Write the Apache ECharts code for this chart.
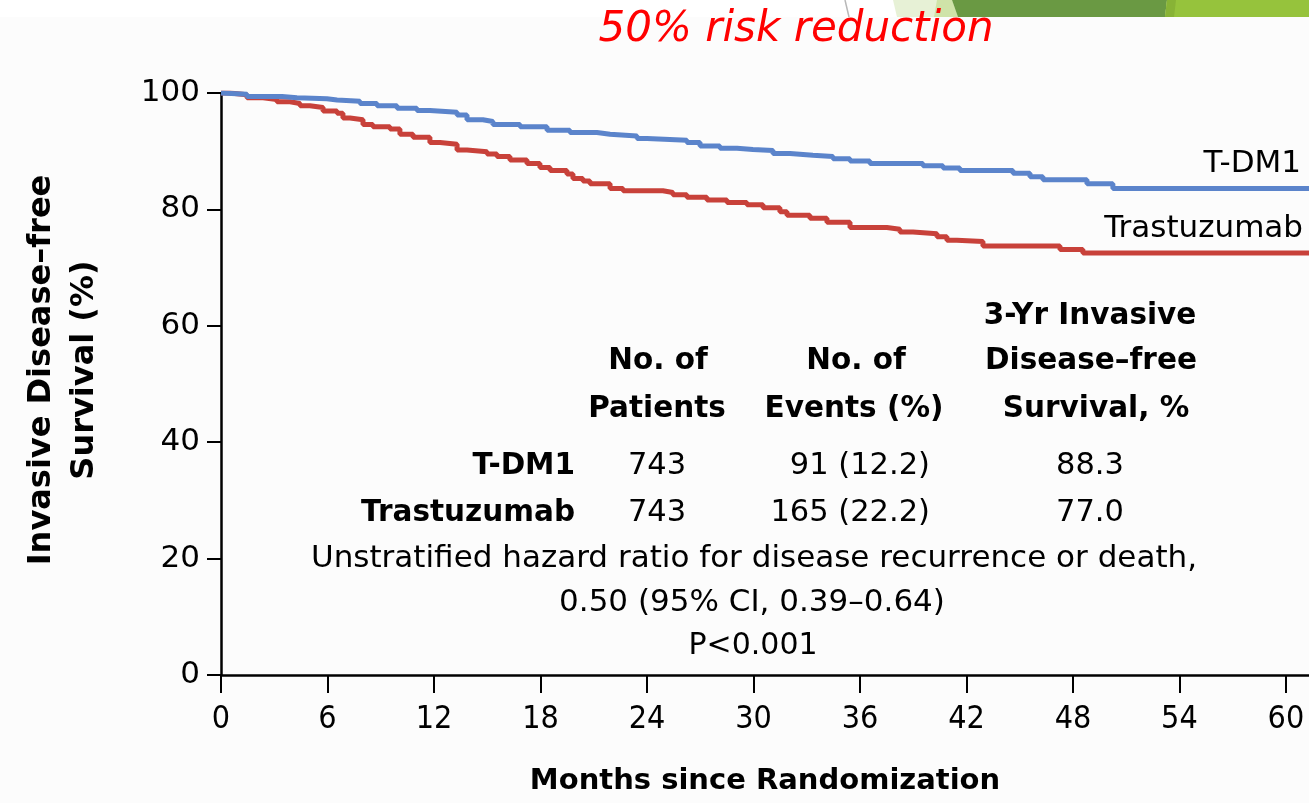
<!DOCTYPE html>
<html>
<head>
<meta charset="utf-8">
<script src="https://cdn.jsdelivr.net/npm/echarts@6/dist/echarts.min.js"></script>
<style>
html,body{margin:0;padding:0;background:#fcfcfc;}
#chart{width:1309px;height:803px;}
</style>
</head>
<body>
<div id="chart"></div>
<script>
// ---- Data ----
var seriesNames = ['T-DM1', 'Trastuzumab'];
// Kaplan-Meier step points: [month, survival %]
var tdm1Months = [0, 0.1, 1.46, 3.44, 4.28, 5.97, 6.54, 7.83, 8.79, 9.92, 11.04, 11.77, 13.30, 13.86, 14.76, 15.32, 16.85, 18.37, 19.66, 21.18, 21.92, 23.44, 24.0, 26.25, 26.99, 28.11, 29.07, 29.97, 31.10, 32.06, 33.35, 34.48, 35.44, 36.56, 39.55, 40.68, 41.63, 44.62, 45.58, 46.31, 48.79, 50.25, 61.3];
var tdm1Values = [100, 99.8, 99.4, 99.2, 99.0, 98.8, 98.6, 98.2, 97.8, 97.4, 97.0, 96.7, 96.2, 95.4, 95.1, 94.6, 94.2, 93.6, 93.2, 92.9, 92.6, 92.2, 91.9, 91.5, 90.9, 90.5, 90.3, 90.1, 89.6, 89.3, 89.1, 88.7, 88.3, 87.9, 87.5, 87.1, 86.7, 86.2, 85.6, 85.1, 84.4, 83.6, 83.6];
var trasMonths = [0, 0.5, 1.46, 2.37, 3.15, 3.89, 4.45, 5.01, 5.75, 6.54, 6.87, 7.27, 8.0, 8.56, 9.52, 10.08, 10.82, 11.77, 12.34, 13.30, 13.86, 14.99, 15.55, 16.28, 17.24, 17.97, 18.54, 19.49, 19.83, 20.39, 20.79, 21.92, 22.65, 24.9, 25.46, 26.25, 27.38, 28.51, 29.63, 30.54, 31.49, 31.89, 33.18, 34.14, 35.44, 37.52, 38.25, 38.99, 40.34, 40.90, 41.46, 42.93, 47.27, 48.56, 61.3];
var trasValues = [100, 99.7, 99.2, 98.9, 98.5, 98.2, 97.8, 97.5, 96.9, 96.5, 95.7, 95.4, 94.6, 94.2, 93.8, 92.9, 92.4, 91.5, 91.2, 90.2, 89.9, 89.5, 89.1, 88.5, 87.9, 87.2, 86.7, 86.1, 85.3, 84.9, 84.4, 83.6, 83.2, 82.9, 82.5, 82.1, 81.6, 81.2, 80.8, 80.3, 79.6, 79.0, 78.5, 77.8, 76.9, 76.6, 76.1, 75.8, 75.3, 74.7, 74.5, 73.7, 73.1, 72.5, 72.5];
var xTicks = [0, 6, 12, 18, 24, 30, 36, 42, 48, 54, 60];
var yTicks = [0, 20, 40, 60, 80, 100];
var patients = ['743', '743'];
var events = ['91 (12.2)', '165 (22.2)'];
var threeYr = ['88.3', '77.0'];
var statLines = ['Unstratified hazard ratio for disease recurrence or death,', '0.50 (95% CI, 0.39\u20130.64)', 'P<0.001'];

function zip(a, b) { return a.map(function (v, i) { return [v, b[i]]; }); }

var FONT = "'DejaVu Sans', Verdana, sans-serif";
var NARROW = "'Liberation Sans Narrow', 'DejaVu Sans Condensed', 'Arial Narrow', 'DejaVu Sans', sans-serif";
var chart = echarts.init(document.getElementById('chart'), null, { renderer: 'canvas' });

var txt = function (x, y, text, opts) {
  opts = opts || {};
  return {
    type: 'text', x: x, y: y, z: 10,
    style: {
      text: text,
      fill: opts.fill || '#000',
      font: (opts.style || 'normal') + ' ' + (opts.weight || 'normal') + ' ' + (opts.size || 30) + 'px ' + (opts.family || FONT),
      align: opts.align || 'center',
      verticalAlign: 'middle'
    }
  };
};

var B = 29.5;  // bold table text size
var R = 30.5;  // regular table text size

var graphics = [
  // top white strip and decorative slide shapes
  { type: 'rect', shape: { x: 0, y: 0, width: 1309, height: 17 }, style: { fill: '#ffffff' }, z: 0 },
  { type: 'polygon', shape: { points: [[893, 0], [1309, 0], [1309, 17], [897, 17]] }, style: { fill: '#e7f1d6' }, z: 1 },
  { type: 'polygon', shape: { points: [[937, 0], [952, 0], [958, 17], [934, 17]] }, style: { fill: '#cfe3a8' }, z: 2 },
  { type: 'polygon', shape: { points: [[952, 0], [1167, 0], [1165, 17], [958, 17]] }, style: { fill: '#6a9943' }, z: 2 },
  { type: 'polygon', shape: { points: [[1167, 0], [1309, 0], [1309, 17], [1165, 17]] }, style: { fill: '#96c33c' }, z: 2 },
  { type: 'polygon', shape: { points: [[1167, 0], [1176, 0], [1174, 17], [1165, 17]] }, style: { fill: '#88b336' }, z: 3 },
  { type: 'line', shape: { x1: 845, y1: 0, x2: 849, y2: 17 }, style: { stroke: '#b8b8b8', lineWidth: 1.5 }, z: 3 },
  // title
  txt(796, 30, '50% risk reduction', { fill: '#ff0000', style: 'italic', size: 42 }),
  // y axis title
  {
    type: 'text', x: 63, y: 370, rotation: Math.PI / 2, z: 10,
    style: {
      text: 'Invasive Disease\u2013free\nSurvival (%)',
      fill: '#000', font: 'bold 32px ' + FONT,
      align: 'center', verticalAlign: 'middle', lineHeight: 43
    }
  },
  // curve labels
  txt(1301, 164, seriesNames[0], { align: 'right', size: 31 }),
  txt(1303, 229, seriesNames[1], { align: 'right', size: 31 }),
  // table headers
  txt(1090, 316, '3-Yr Invasive', { weight: 'bold', size: B }),
  txt(658, 361, 'No. of', { weight: 'bold', size: B }),
  txt(856, 361, 'No. of', { weight: 'bold', size: B }),
  txt(1091, 361, 'Disease\u2013free', { weight: 'bold', size: B }),
  txt(657, 409, 'Patients', { weight: 'bold', size: B }),
  txt(854, 409, 'Events (%)', { weight: 'bold', size: B }),
  txt(1096, 409, 'Survival, %', { weight: 'bold', size: B }),
  // table rows
  txt(575, 466, seriesNames[0], { weight: 'bold', size: B, align: 'right' }),
  txt(575, 513, seriesNames[1], { weight: 'bold', size: B, align: 'right' }),
  txt(657, 466, patients[0], { size: R }),
  txt(657, 513, patients[1], { size: R }),
  txt(930, 466, events[0], { size: R, align: 'right' }),
  txt(930, 513, events[1], { size: R, align: 'right' }),
  txt(1090, 466, threeYr[0], { size: R }),
  txt(1090, 513, threeYr[1], { size: R }),
  txt(754, 559, statLines[0], { size: 31 }),
  txt(752, 603, statLines[1], { size: 31 }),
  txt(753, 646, statLines[2], { size: 30 })
];

chart.setOption({
  backgroundColor: '#fcfcfc',
  animation: false,
  grid: { left: 221, right: 0, top: 93, bottom: 128, containLabel: false },
  xAxis: {
    type: 'value', min: 0, max: 61.3, interval: 6,
    name: 'Months since Randomization', nameLocation: 'middle', nameGap: 92,
    nameTextStyle: { fontFamily: FONT, fontWeight: 'bold', fontSize: 29, color: '#000' },
    axisLine: { show: true, lineStyle: { color: '#000', width: 2.5 } },
    axisTick: { show: true, length: 18, inside: false, lineStyle: { color: '#000', width: 2 } },
    axisLabel: {
      margin: 29, fontSize: 32, fontFamily: NARROW, color: '#000',
      showMaxLabel: false,
      formatter: function (v) { return xTicks.indexOf(v) >= 0 ? String(v) : ''; }
    },
    splitLine: { show: false }
  },
  yAxis: {
    type: 'value', min: 0, max: 100, interval: 20,
    axisLine: { show: true, lineStyle: { color: '#000', width: 2.5 } },
    axisTick: { show: true, length: 14, inside: false, lineStyle: { color: '#000', width: 2 } },
    axisLabel: {
      margin: 21, fontSize: 31, fontFamily: FONT, color: '#000',
      formatter: function (v) { return yTicks.indexOf(v) >= 0 ? String(v) : ''; }
    },
    splitLine: { show: false }
  },
  series: [
    {
      name: seriesNames[1], type: 'line', step: 'end', showSymbol: false, symbol: 'none',
      data: zip(trasMonths, trasValues),
      lineStyle: { color: '#c8413a', width: 5 }, z: 3
    },
    {
      name: seriesNames[0], type: 'line', step: 'end', showSymbol: false, symbol: 'none',
      data: zip(tdm1Months, tdm1Values),
      lineStyle: { color: '#5b84cb', width: 5 }, z: 4
    }
  ],
  graphic: graphics
});
</script>
</body>
</html>
